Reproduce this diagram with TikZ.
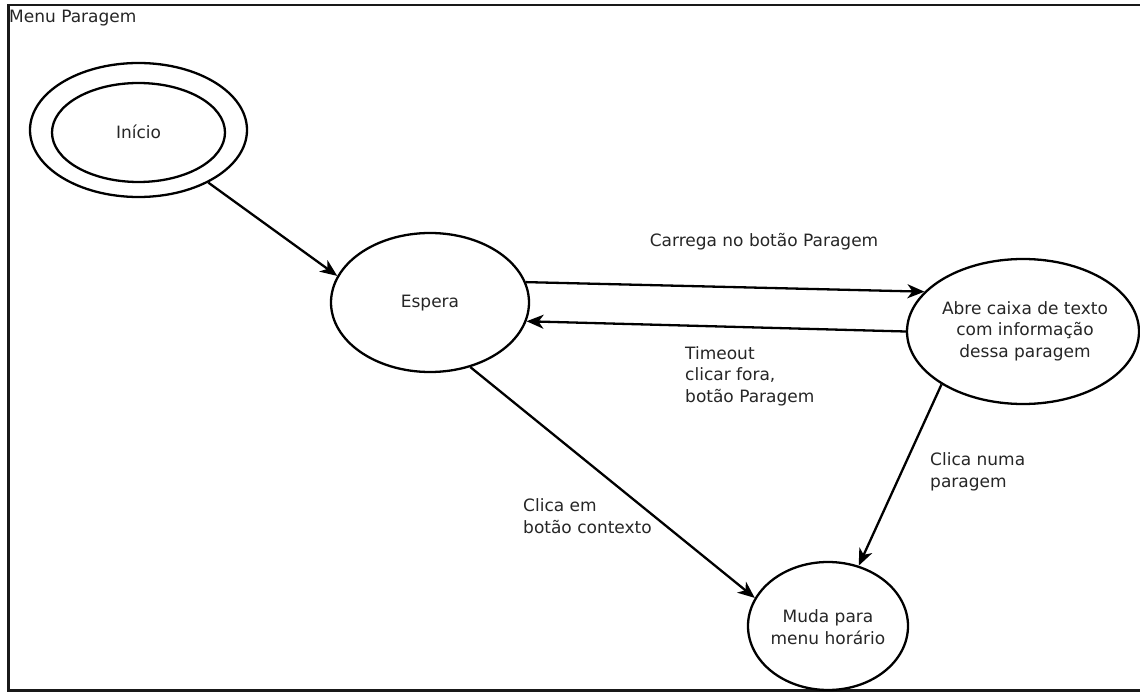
\documentclass[tikz,border=0pt]{standalone}
\usepackage{fontspec}
\setmainfont{DejaVu Sans}
\usetikzlibrary{arrows.meta,shapes.geometric}
\begin{document}
\begin{tikzpicture}[x=1pt,y=-1pt,
  every node/.style={font=\fontsize{17}{21.5}\selectfont, text=black!85},
  st/.style={draw, ellipse, line width=2.3pt, inner sep=0pt},
  lbl/.style={align=left, inner sep=0pt},
  ctr/.style={align=center, inner sep=0pt},
  arr/.style={line width=2.3pt, -{Stealth[length=17pt,width=14pt,inset=5pt]}}
]
\useasboundingbox (0,0) rectangle (1140,692);
\clip (0,0) rectangle (1140,692);
\fill[white] (0,0) rectangle (1140,692);
% frame
\draw[line width=2.3pt, black!90] (1160,5) -- (8.5,5) -- (8.5,690.5) -- (1160,690.5);
\node[anchor=base west, inner sep=0pt] (title) at (9,23) {Menu Paragem};

% states
\node[st, minimum width=217pt, minimum height=134pt] (inio) at (138.5,130) {};
\node[st, minimum width=173pt, minimum height=99pt] (ini) at (138.5,132.5) {};
\node[ctr] (tini) at (138.5,132) {Início};

\node[st, minimum width=198pt, minimum height=139pt] (esp) at (430,302.5) {};
\node[ctr] (tesp) at (430,303) {Espera};

\node[st, minimum width=232pt, minimum height=145pt] (abre) at (1023,331.5) {};
\node[ctr] (tabre) at (1025,331) {Abre caixa de texto\\com informação\\dessa paragem};

\node[st, minimum width=160pt, minimum height=128pt] (muda) at (828,626) {};
\node[ctr] (tmuda) at (828,627) {Muda para\\menu horário};

% transitions
\draw[arr] (inio.-37) -- (esp.164);
\draw[arr] (esp.12.5) -- (abre.158);
\draw[arr] (abre.180) -- (esp.-11.7);
\draw[arr] (esp.-58.8) -- (muda.159);
\draw[arr] (abre.-147.7) -- (muda.63.8);

% labels
\node[ctr] (l1) at (764,242) {Carrega no botão Paragem};
\node[lbl, anchor=west] (l2) at (685,376) {Timeout\\clicar fora,\\botão Paragem};
\node[lbl, anchor=west] (l3) at (523,516) {Clica em\\botão contexto};
\node[lbl, anchor=west] (l4) at (930,472) {Clica numa\\paragem};
\end{tikzpicture}
\end{document}
